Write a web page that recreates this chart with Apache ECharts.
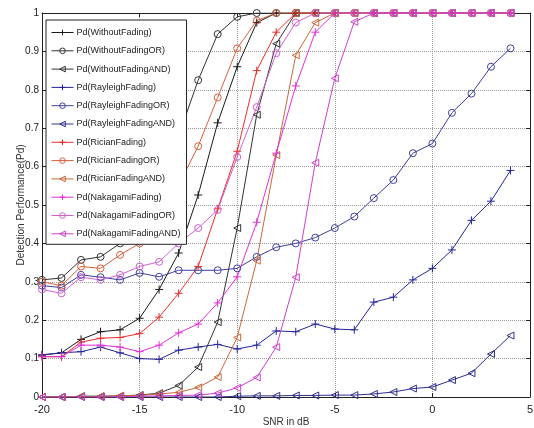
<!DOCTYPE html>
<html>
<head>
<meta charset="utf-8">
<script src="https://cdn.jsdelivr.net/npm/echarts@6/dist/echarts.min.js"></script>
<style>
html,body{margin:0;padding:0;background:#fff;}
#main{width:534px;height:428px;}
</style>
</head>
<body>
<div id="main"></div>
<script>
var snr = [-20,-19,-18,-17,-16,-15,-14,-13,-12,-11,-10,-9,-8,-7,-6,-5,-4,-3,-2,-1,0,1,2,3,4];

var pdWithout    = [0.109,0.115,0.15,0.17,0.175,0.205,0.28,0.375,0.526,0.714,0.86,0.975,1,1,1,1,1,1,1,1,1,1,1,1,1];
var pdWithoutOR  = [0.305,0.31,0.357,0.365,0.40,0.47,0.57,0.68,0.825,0.945,0.99,1,1,1,1,1,1,1,1,1,1,1,1,1,1];
var pdWithoutAND = [0,0,0.002,0.002,0.003,0.005,0.01,0.03,0.078,0.195,0.44,0.735,0.92,1,1,1,1,1,1,1,1,1,1,1,1];
var pdRayleigh    = [0.11,0.115,0.118,0.13,0.115,0.10,0.098,0.122,0.13,0.137,0.125,0.135,0.172,0.17,0.19,0.177,0.175,0.247,0.26,0.305,0.335,0.383,0.46,0.51,0.59];
var pdRayleighOR  = [0.29,0.285,0.318,0.312,0.305,0.323,0.313,0.33,0.33,0.33,0.335,0.365,0.39,0.40,0.415,0.44,0.47,0.518,0.565,0.635,0.66,0.74,0.79,0.86,0.908];
var pdRayleighAND = [0,0,0,0,0,0,0,0,0,0,0.002,0.003,0.003,0.004,0.004,0.005,0.005,0.008,0.013,0.022,0.026,0.044,0.062,0.112,0.16];
var pdRician    = [0.105,0.105,0.143,0.153,0.155,0.165,0.208,0.27,0.34,0.49,0.64,0.85,0.95,1,1,1,1,1,1,1,1,1,1,1,1];
var pdRicianOR  = [0.30,0.29,0.34,0.335,0.37,0.40,0.47,0.552,0.653,0.78,0.908,0.98,1,1,1,1,1,1,1,1,1,1,1,1,1];
var pdRicianAND = [0,0,0.002,0.002,0.003,0.004,0.008,0.012,0.025,0.052,0.155,0.355,0.63,0.89,0.975,1,1,1,1,1,1,1,1,1,1];
var pdNakagami    = [0.105,0.105,0.135,0.135,0.13,0.118,0.135,0.167,0.19,0.245,0.313,0.455,0.635,0.81,0.95,1,1,1,1,1,1,1,1,1,1];
var pdNakagamiOR  = [0.28,0.27,0.312,0.305,0.318,0.34,0.352,0.40,0.44,0.487,0.625,0.755,0.895,0.975,1,1,1,1,1,1,1,1,1,1,1];
var pdNakagamiAND = [0,0,0,0,0,0.002,0.003,0.004,0.005,0.01,0.024,0.051,0.13,0.312,0.61,0.83,0.977,1,1,1,1,1,1,1,1];

var names = ['Pd(WithoutFading)','Pd(WithoutFadingOR)','Pd(WithoutFadingAND)',
             'Pd(RayleighFading)','Pd(RayleighFadingOR)','Pd(RayleighFadingAND)',
             'Pd(RicianFading)','Pd(RicianFadingOR)','Pd(RicianFadingAND)',
             'Pd(NakagamiFading)','Pd(NakagamiFadingOR)','Pd(NakagamiFadingAND)'];
var values = [pdWithout,pdWithoutOR,pdWithoutAND,pdRayleigh,pdRayleighOR,pdRayleighAND,
              pdRician,pdRicianOR,pdRicianAND,pdNakagami,pdNakagamiOR,pdNakagamiAND];
var colors = ['#1a1a1a','#333333','#333333','#26269a','#40409a','#30308c',
              '#e8302c','#d8603e','#c8683a','#e030d8','#d060d0','#cc40cc'];

var PLUS = 'path://M5,0L5,10M0,5L10,5';
var TRI  = 'path://M0,5L10,0L10,10Z';
var marks = [PLUS,'circle',TRI];

var FONT = "'Liberation Sans',Arial,sans-serif";

var myChart = echarts.init(document.getElementById('main'));

var series = [];
for (var i = 0; i < names.length; i++) {
  var pts = [];
  for (var j = 0; j < snr.length; j++) pts.push([snr[j], values[i][j]]);
  series.push({
    name: names[i],
    type: 'line',
    data: pts,
    color: colors[i],
    symbol: marks[i % 3],
    symbolSize: i % 3 == 0 ? 8 : 7,
    showAllSymbol: true,
    lineStyle: {color: colors[i], width: 1},
    itemStyle: {color: 'rgba(0,0,0,0)', borderColor: colors[i], borderWidth: 1},
    emphasis: {disabled: true},
    animation: false
  });
}

var option = {
  backgroundColor: '#fff',
  textStyle: {fontFamily: FONT},
  grid: {left: 42, right: 4, top: 13, bottom: 31, containLabel: false, outerBoundsMode: 'none'},
  legend: {
    orient: 'vertical',
    left: 46, top: 20,
    data: names,
    backgroundColor: '#fff',
    borderColor: '#222',
    borderWidth: 1,
    borderRadius: 0,
    padding: [8, 6, 6, 5],
    itemWidth: 22,
    itemHeight: 7,
    itemGap: 9.3,
    lineStyle: {width: 1},
    itemStyle: {borderWidth: 1},
    textStyle: {fontSize: 9, color: '#222', fontFamily: FONT, padding: [0, 0, 0, -2]}
  },
  xAxis: [{
    type: 'value', min: -20, max: 5, interval: 5,
    name: 'SNR in dB', nameLocation: 'middle', nameGap: 20, nameMoveOverlap: false,
    nameTextStyle: {fontSize: 10, color: '#333'},
    axisLine: {onZero: false, lineStyle: {color: '#222'}},
    axisTick: {inside: true, length: 4, lineStyle: {color: '#222'}},
    axisLabel: {fontSize: 11, color: '#222', margin: 7},
    splitLine: {show: true, lineStyle: {type: 'dotted', color: '#999'}}
  }, {
    type: 'value', min: -20, max: 5, interval: 5, position: 'top',
    axisLine: {onZero: false, lineStyle: {color: '#222'}},
    axisTick: {inside: true, length: 4, lineStyle: {color: '#222'}},
    axisLabel: {show: false}, splitLine: {show: false}
  }],
  yAxis: [{
    type: 'value', min: 0, max: 1, interval: 0.1,
    name: 'Detection Performance(Pd)', nameLocation: 'middle', nameGap: 16, nameMoveOverlap: false,
    nameTextStyle: {fontSize: 10, color: '#333'},
    axisLine: {show: true, onZero: false, lineStyle: {color: '#222'}},
    axisTick: {show: true, inside: true, length: 4, lineStyle: {color: '#222'}},
    axisLabel: {fontSize: 10, color: '#222', margin: 3},
    splitLine: {show: true, lineStyle: {type: 'dotted', color: '#999'}}
  }, {
    type: 'value', min: 0, max: 1, interval: 0.1, position: 'right',
    axisLine: {show: true, onZero: false, lineStyle: {color: '#222'}},
    axisTick: {show: true, inside: true, length: 4, lineStyle: {color: '#222'}},
    axisLabel: {show: false}, splitLine: {show: false}
  }],
  series: series
};

myChart.setOption(option);
</script>
</body>
</html>
